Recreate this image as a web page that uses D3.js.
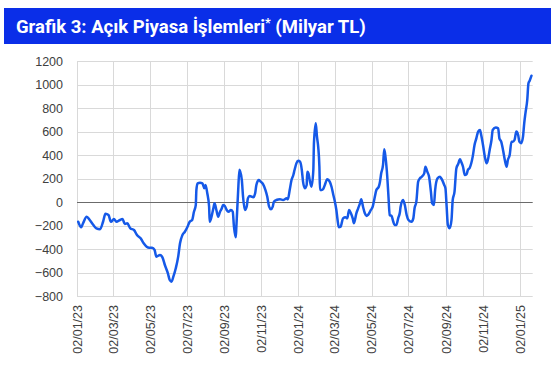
<!DOCTYPE html>
<html><head><meta charset="utf-8">
<script src="https://cdn.jsdelivr.net/npm/d3@7"></script>
<style>
html,body{margin:0;padding:0;background:#fff;}
svg{display:block;}
</style></head>
<body>
<svg id="chart" width="557" height="367"></svg>
<script>
const title = "Grafik 3: Açık Piyasa İşlemleri";
const titleSup = "*";
const titleTail = " (Milyar TL)";

const yTicks = [-800,-600,-400,-200,0,200,400,600,800,1000,1200];
const xTickDates = ["2023-01-02","2023-03-02","2023-05-02","2023-07-02","2023-09-02","2023-11-02","2024-01-02","2024-03-02","2024-05-02","2024-07-02","2024-09-02","2024-11-02","2025-01-02"];
const xTickLabels = ["02/01/23","02/03/23","02/05/23","02/07/23","02/09/23","02/11/23","02/01/24","02/03/24","02/05/24","02/07/24","02/09/24","02/11/24","02/01/25"];
const xDomain = ["2023-01-02","2025-01-23"];

const dates = [
"2023-01-04","2023-01-09","2023-01-12","2023-01-18","2023-01-23","2023-01-29","2023-02-03","2023-02-09","2023-02-14","2023-02-18",
"2023-02-23","2023-02-27","2023-03-04","2023-03-08","2023-03-14","2023-03-18","2023-03-22","2023-03-26","2023-03-31","2023-04-06",
"2023-04-11","2023-04-17","2023-04-22","2023-04-27","2023-05-01","2023-05-06","2023-05-10","2023-05-13","2023-05-19","2023-05-23",
"2023-05-27","2023-06-01","2023-06-04","2023-06-07","2023-06-10","2023-06-14","2023-06-18","2023-06-21","2023-06-25","2023-06-29",
"2023-07-03","2023-07-07","2023-07-11","2023-07-14","2023-07-17","2023-07-18","2023-07-20","2023-07-24","2023-07-28","2023-07-31",
"2023-08-02","2023-08-05","2023-08-08","2023-08-09","2023-08-12","2023-08-15","2023-08-17","2023-08-20","2023-08-23","2023-08-26",
"2023-08-29","2023-08-31","2023-09-03","2023-09-06","2023-09-09","2023-09-13","2023-09-16","2023-09-18","2023-09-21","2023-09-22",
"2023-09-25","2023-09-27","2023-10-01","2023-10-03","2023-10-06","2023-10-09","2023-10-11","2023-10-14","2023-10-20","2023-10-23",
"2023-10-25","2023-10-29","2023-11-01","2023-11-05","2023-11-09","2023-11-12","2023-11-15","2023-11-18","2023-11-21","2023-11-23",
"2023-11-27","2023-12-03","2023-12-08","2023-12-14","2023-12-16","2023-12-19","2023-12-22","2023-12-25","2023-12-27","2023-12-30",
"2024-01-02","2024-01-05","2024-01-08","2024-01-10","2024-01-13","2024-01-16","2024-01-17","2024-01-19","2024-01-21","2024-01-24",
"2024-01-27","2024-01-28","2024-01-31","2024-02-02","2024-02-04","2024-02-06","2024-02-07","2024-02-10","2024-02-12","2024-02-15",
"2024-02-19","2024-02-23","2024-02-26","2024-02-29","2024-03-02","2024-03-05","2024-03-07","2024-03-09","2024-03-12","2024-03-16",
"2024-03-20","2024-03-23","2024-03-26","2024-03-29","2024-04-01","2024-04-03","2024-04-07","2024-04-10","2024-04-13","2024-04-15",
"2024-04-18","2024-04-21","2024-04-24","2024-04-26","2024-05-01","2024-05-04","2024-05-07","2024-05-10","2024-05-14","2024-05-16",
"2024-05-18","2024-05-21","2024-05-23","2024-05-25","2024-05-28","2024-05-30","2024-06-01","2024-06-04","2024-06-07","2024-06-09",
"2024-06-12","2024-06-15","2024-06-18","2024-06-19","2024-06-23","2024-06-26","2024-06-29","2024-07-02","2024-07-07","2024-07-10",
"2024-07-12","2024-07-15","2024-07-18","2024-07-21","2024-07-24","2024-07-28","2024-07-30","2024-08-02","2024-08-05","2024-08-08",
"2024-08-10","2024-08-13","2024-08-15","2024-08-19","2024-08-23","2024-08-25","2024-08-30","2024-09-01","2024-09-03","2024-09-05",
"2024-09-08","2024-09-11","2024-09-13","2024-09-16","2024-09-19","2024-09-22","2024-09-25","2024-09-27","2024-09-30","2024-10-03",
"2024-10-06","2024-10-08","2024-10-11","2024-10-16","2024-10-19","2024-10-22","2024-10-25","2024-10-28","2024-10-30","2024-11-02",
"2024-11-05","2024-11-08","2024-11-10","2024-11-13","2024-11-16","2024-11-18","2024-11-23","2024-11-27","2024-11-29","2024-12-02",
"2024-12-05","2024-12-08","2024-12-11","2024-12-13","2024-12-16","2024-12-19","2024-12-21","2024-12-24","2024-12-27","2024-12-30",
"2025-01-01","2025-01-04","2025-01-07","2025-01-09","2025-01-11","2025-01-14","2025-01-16","2025-01-18","2025-01-21"
];
const values = [
-168,-215,-181,-125,-153,-196,-224,-232,-168,-100,
-111,-168,-145,-168,-153,-145,-187,-181,-224,-238,
-281,-309,-351,-380,-389,-389,-408,-465,-451,-471,
-536,-607,-664,-678,-636,-564,-465,-351,-281,-253,
-215,-168,-153,-83,-26,102,159,164,159,117,
145,74,-40,-168,-125,-54,-11,-68,-125,-83,
-54,-26,-34,-68,-83,-68,-83,-210,-300,-210,
102,275,187,45,-68,-40,31,51,40,74,
145,187,173,153,102,45,-40,-62,-40,3,
17,23,17,31,23,102,187,230,272,329,
351,343,272,173,117,145,258,244,187,130,
272,500,670,556,471,300,102,102,108,145,
193,173,130,60,17,-68,-153,-215,-210,-139,
-130,-139,-68,-96,-139,-181,-96,-54,-11,23,
-40,-96,-119,-111,-68,-40,31,102,130,173,
244,315,448,386,215,45,-111,-119,-168,-196,
-196,-139,-83,-40,17,-26,-111,-153,-168,-139,
-54,3,173,202,215,244,300,258,215,88,
-11,-26,102,202,215,202,145,117,-40,-196,
-224,-153,17,88,286,323,363,343,300,230,
238,272,290,386,485,542,599,613,570,485,
386,329,357,443,528,613,633,627,542,513,
443,357,300,357,400,513,513,528,599,570,
513,500,556,670,755,868,1010,1032,1075
];

const svg = d3.select("#chart");
const W = 557, H = 367;
const margin = {left: 77, right: 24.3, top: 61, bottom: 71};
const parse = d3.utcParse("%Y-%m-%d");

// Title bar
svg.append("rect").attr("x", 4).attr("y", 8).attr("width", 547).attr("height", 36).attr("fill", "#0a2ee8");
const t = svg.append("text").attr("x", 16).attr("y", 32.5)
  .attr("fill", "#fff").attr("font-family", "Roboto, 'Open Sans', sans-serif")
  .attr("font-weight", 700).attr("font-size", 18.5);
t.append("tspan").text(title);
t.append("tspan").text(titleSup).attr("font-size", 12.5).attr("dy", -6);
t.append("tspan").text(titleTail).attr("dy", 6);

const x = d3.scaleUtc().domain(xDomain.map(parse)).range([margin.left, W - margin.right]);
const y = d3.scaleLinear().domain([-800, 1200]).range([H - margin.bottom, margin.top]);

// horizontal grid
svg.append("g").selectAll("line").data(yTicks.filter(d => d !== 0)).join("line")
  .attr("x1", margin.left).attr("x2", W - margin.right)
  .attr("y1", d => Math.round(y(d)) + 0.5).attr("y2", d => Math.round(y(d)) + 0.5)
  .attr("stroke", "#d9d9d9").attr("stroke-width", 1);

// vertical grid
const xt = xTickDates.map(parse);
svg.append("g").selectAll("line").data(xt).join("line")
  .attr("x1", d => Math.round(x(d)) + 0.5).attr("x2", d => Math.round(x(d)) + 0.5)
  .attr("y1", y(1200)).attr("y2", y(-800))
  .attr("stroke", "#d9d9d9").attr("stroke-width", 1);

// zero line
svg.append("line").attr("x1", margin.left).attr("x2", W - margin.right)
  .attr("y1", Math.round(y(0)) + 0.5).attr("y2", Math.round(y(0)) + 0.5)
  .attr("stroke", "#6b6b6b").attr("stroke-width", 1.2);

// y axis labels
const yAxis = d3.axisLeft(y).tickValues(yTicks).tickSize(0).tickPadding(14).tickFormat(d3.format("d"));
const gy = svg.append("g").attr("transform", `translate(${margin.left},0)`).call(yAxis);
gy.select(".domain").remove();
gy.selectAll("text").attr("font-family", "'Liberation Sans', Arial, sans-serif")
  .attr("font-size", 12.5).attr("fill", "#404040");

// x axis labels
const xAxis = d3.axisBottom(x).tickValues(xt).tickSize(0).tickFormat((d, i) => xTickLabels[i]);
const gx = svg.append("g").attr("transform", `translate(0,${H - margin.bottom})`).call(xAxis);
gx.select(".domain").remove();
gx.selectAll("text").attr("font-family", "'Liberation Sans', Arial, sans-serif")
  .attr("font-size", 12.5).attr("fill", "#404040")
  .attr("transform", "rotate(-90)").attr("text-anchor", "end")
  .attr("x", -9).attr("y", 0).attr("dy", "0.35em");

// line
const data = dates.map((d, i) => ({date: parse(d), value: values[i]}));
const line = d3.line().x(d => x(d.date)).y(d => y(d.value)).curve(d3.curveMonotoneX);
svg.append("path").datum(data).attr("d", line)
  .attr("fill", "none").attr("stroke", "#1559e8").attr("stroke-width", 2.5)
  .attr("stroke-linejoin", "round").attr("stroke-linecap", "round");
</script>
</body></html>
